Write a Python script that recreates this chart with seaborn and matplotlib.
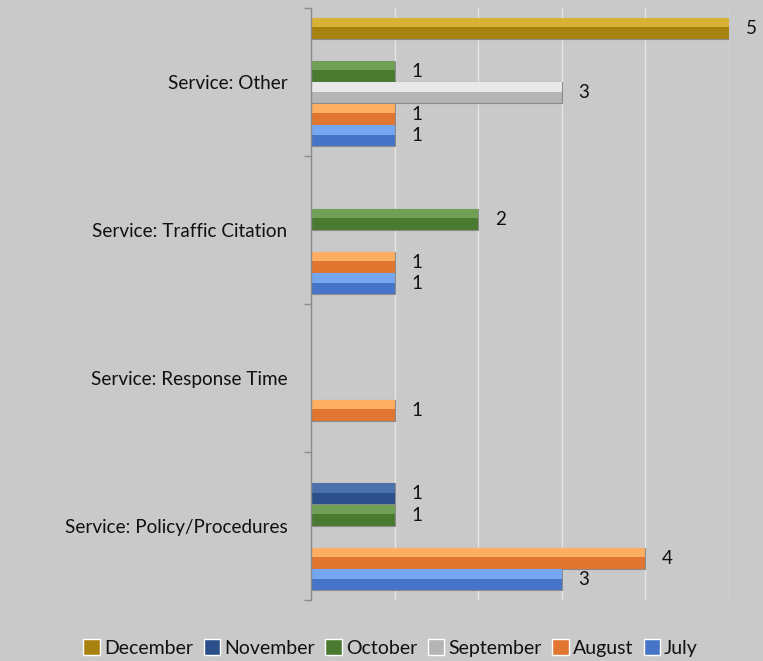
import matplotlib
matplotlib.use("Agg")
import matplotlib.pyplot as plt
import seaborn as sns
import pandas as pd
import numpy as np
from matplotlib.patches import Rectangle
from matplotlib.ticker import FixedLocator

categories = ["Service: Other", "Service: Traffic Citation", "Service: Response Time", "Service: Policy/Procedures"]
months = ["December", "November", "October", "September", "August", "July"]
december = [5, 0, 0, 0]
november = [0, 0, 0, 1]
october = [1, 2, 0, 1]
september = [3, 0, 0, 0]
august = [1, 1, 1, 4]
july = [1, 1, 0, 3]

colors = {"December": "#A8820F", "November": "#2B4F8A", "October": "#4A7A30",
          "September": "#B5B5B5", "August": "#E0762F", "July": "#4674C8"}
light = {"December": "#D8B135", "November": "#4B70AA", "October": "#70A055",
         "September": "#E8E8E8", "August": "#FDAE62", "July": "#76A6F0"}

series = dict(zip(months, [december, november, october, september, august, july]))
rows = []
for m in months:
    for c, v in zip(categories, series[m]):
        rows.append({"Category": c, "Month": m, "Value": v})
df = pd.DataFrame(rows)

sns.set_theme(style="white")
plt.rcParams["font.family"] = ["Lato", "DejaVu Sans"]
bg = "#C9C9C9"
fig = plt.figure(figsize=(7.63, 6.61), dpi=100, facecolor=bg)
ax = fig.add_axes([311/763, 1-600/661, (729-311)/763, (600-8)/661])
ax.set_facecolor(bg)

sns.barplot(data=df, y="Category", x="Value", hue="Month", order=categories,
            hue_order=months, palette=colors, orient="h", width=0.87,
            ax=ax, legend=True, saturation=1)

for bars, m in zip(ax.containers, months):
    for p, v in zip(bars, series[m]):
        h = p.get_height()
        p.set_height(h * 0.98)
        p.set_y(p.get_y() + h * 0.01)
        if v > 0:
            p.set_edgecolor("#8a8a8a")
            p.set_linewidth(0.8)
            hl = Rectangle((p.get_x(), p.get_y()), p.get_width(), p.get_height() * 0.45,
                           facecolor=light[m], edgecolor="none", zorder=p.get_zorder() + 0.1)
            ax.add_patch(hl)
            ax.text(v + 0.2, p.get_y() + p.get_height() / 2, f"{v}", va="center",
                    ha="left", fontsize=13.5, color="#111111")
        else:
            p.set_visible(False)

ax.set_xlim(0, 5)
ax.set_xticks([1, 2, 3, 4, 5])
ax.set_xticklabels([])
ax.xaxis.grid(True, color="#E6E6E6", linewidth=1)
ax.set_axisbelow(True)
ax.tick_params(axis="x", length=0)
ax.set_xlabel("")
ax.set_ylabel("")
ax.set_ylim(3.5, -0.5)
ax.yaxis.set_minor_locator(FixedLocator([-0.5, 0.5, 1.5, 2.5, 3.5]))
ax.tick_params(axis="y", which="major", length=0, pad=17, labelsize=13.6, labelcolor="#111111")
ax.tick_params(axis="y", which="minor", length=5, color="#8a8a8a", width=1, left=True)
for s in ["top", "right", "bottom"]:
    ax.spines[s].set_visible(False)
ax.spines["left"].set_color("#8a8a8a")
ax.spines["left"].set_linewidth(1)

handles, labels = ax.get_legend_handles_labels()
ax.get_legend().remove()
fig.legend(handles, labels, loc="center", bbox_to_anchor=(0.512, 1 - 648/661), ncol=6,
           frameon=False, fontsize=14, handlelength=0.85, handleheight=0.85,
           handletextpad=0.2, columnspacing=0.55, labelcolor="#111111")

fig.savefig("out.png", dpi=100, facecolor=bg)
